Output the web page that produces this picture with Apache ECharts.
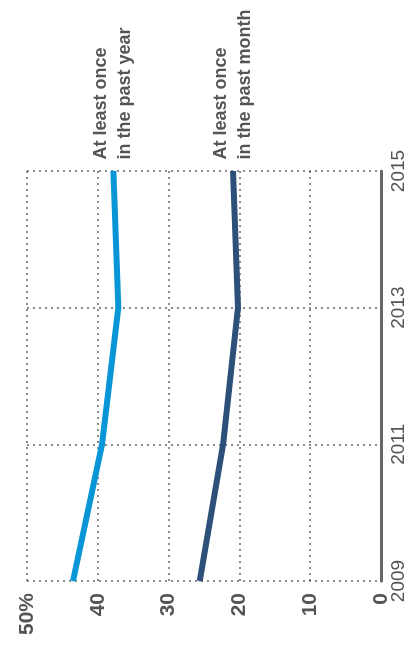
<!DOCTYPE html>
<html>
<head>
<meta charset="utf-8">
<script src="https://cdn.jsdelivr.net/npm/echarts@6/dist/echarts.min.js"></script>
<style>
html,body{margin:0;padding:0;background:#fff;}
#c{width:409px;height:649px;}
</style>
</head>
<body>
<div id="c"></div>
<script>
var years = ['2009', '2011', '2013', '2015'];
var pastYear = [43.5, 39.4, 37.1, 37.8];
var pastMonth = [25.6, 22.3, 20.2, 20.9];
var valueTicks = [0, 10, 20, 30, 40, 50];
var labelYear = 'At least once\nin the past year';
var labelMonth = 'At least once\nin the past month';

function seriesData(vals, label) {
  return vals.map(function (v, i) {
    var item = { value: [v, years[i]] };
    if (i === vals.length - 1) {
      item.label = {
        show: true,
        formatter: label,
        position: 'top',
        distance: 11,
        rotate: 90,
        align: 'left',
        verticalAlign: 'middle',
        fontFamily: 'Liberation Sans',
        fontWeight: 'bold',
        fontSize: 18,
        lineHeight: 24,
        color: '#555'
      };
    }
    return item;
  });
}

var chart = echarts.init(document.getElementById('c'));
chart.setOption({
  animation: false,
  grid: { left: 27, right: 28, top: 171, bottom: 68, containLabel: false },
  xAxis: {
    type: 'value',
    min: valueTicks[0],
    max: valueTicks[valueTicks.length - 1],
    interval: 10,
    inverse: true,
    position: 'bottom',
    axisLine: { show: false },
    axisTick: { show: false },
    axisLabel: {
      rotate: 90,
      margin: 12,
      fontFamily: 'Liberation Sans',
      fontWeight: 'bold',
      fontSize: 21,
      color: '#555',
      formatter: function (v) { return v === 50 ? '50%' : String(v); }
    },
    splitLine: { show: true, lineStyle: { type: [2, 4], color: '#666', width: 1.5 } }
  },
  yAxis: {
    type: 'category',
    data: years,
    boundaryGap: false,
    position: 'right',
    axisLine: { show: true, lineStyle: { color: '#666', width: 3 } },
    axisTick: { show: false },
    axisLabel: {
      rotate: 90,
      margin: 8,
      fontFamily: 'Liberation Sans',
      fontSize: 19,
      color: '#555'
    },
    splitLine: { show: true, lineStyle: { type: [2, 4], color: '#666', width: 1.5 } }
  },
  series: [
    {
      type: 'line',
      data: seriesData(pastYear, labelYear),
      symbol: 'circle',
      symbolSize: 1,
      showSymbol: true,
      lineStyle: { color: '#0996d6', width: 6 },
      itemStyle: { color: '#0996d6' },
      z: 3
    },
    {
      type: 'line',
      data: seriesData(pastMonth, labelMonth),
      symbol: 'circle',
      symbolSize: 1,
      showSymbol: true,
      lineStyle: { color: '#2c5078', width: 6 },
      itemStyle: { color: '#2c5078' },
      z: 3
    }
  ]
});
</script>
</body>
</html>
